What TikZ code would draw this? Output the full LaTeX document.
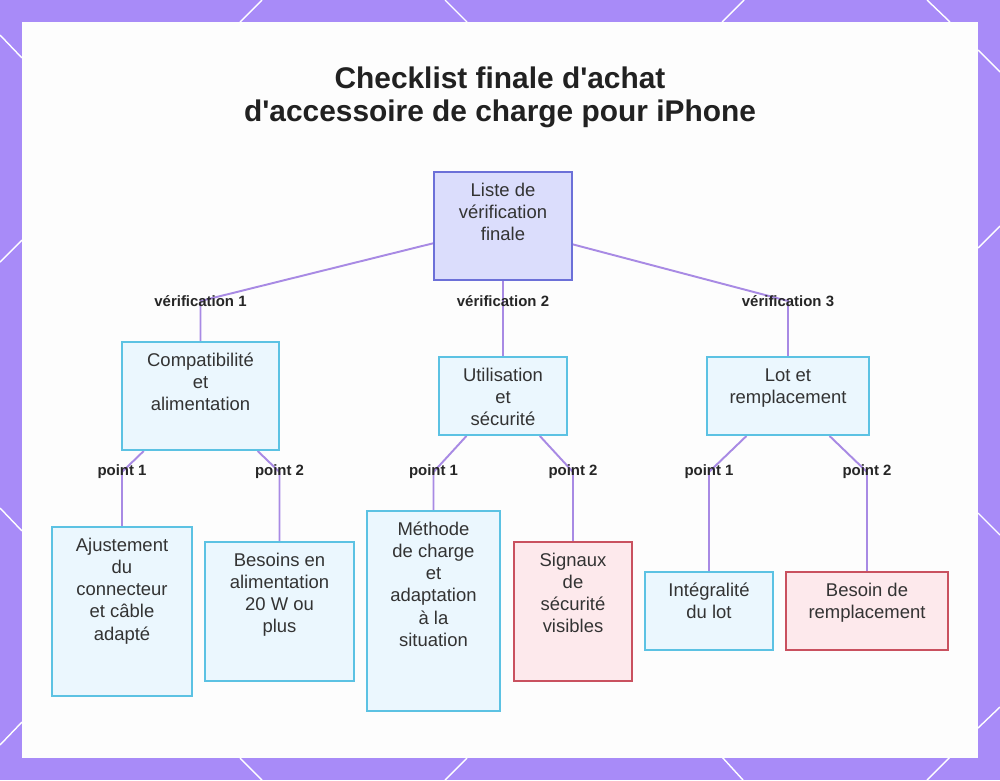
\documentclass[tikz,border=0pt]{standalone}
\usepackage{fontspec}
\setmainfont{Liberation Sans}
\usepackage{tikz}
\usetikzlibrary{positioning, backgrounds}

\definecolor{frame}{RGB}{168,139,248}
\definecolor{panel}{RGB}{253,253,253}
\definecolor{linkc}{RGB}{168,138,228}
\definecolor{textc}{RGB}{51,51,51}
\definecolor{rootfill}{RGB}{219,221,252}
\definecolor{rootdraw}{RGB}{108,112,216}
\definecolor{infofill}{RGB}{235,247,254}
\definecolor{infodraw}{RGB}{92,194,227}
\definecolor{alertfill}{RGB}{253,233,236}
\definecolor{alertdraw}{RGB}{201,81,95}

\pgfdeclarelayer{back}
\pgfsetlayers{back,background,main}

\newlength\pxu
\setlength\pxu{0.2mm}
\newcommand{\boxfont}{\fontsize{10.5}{12.6}\selectfont}
\newcommand{\tagfont}{\fontsize{8.5}{10}\selectfont\bfseries}
\newcommand{\titlefont}{\fontsize{17}{18.7}\selectfont\bfseries}
\newcommand{\boxtxt}[3]{\parbox[c][#2\pxu][t]{#1\pxu}{\centering\vspace*{9\pxu}\strut#3\par}}

\begin{document}
\begin{tikzpicture}[x=0.2mm, y=-0.2mm,
  link/.style={draw=linkc, line width=1.1pt},
  tag/.style={font=\tagfont, text=black!85, inner sep=1pt},
  box/.style={draw, line width=1.1pt, inner sep=0pt, font=\boxfont, text=textc},
  rootbox/.style={box, draw=rootdraw, fill=rootfill},
  infobox/.style={box, draw=infodraw, fill=infofill},
  alertbox/.style={box, draw=alertdraw, fill=alertfill},
  title/.style={font=\titlefont, text=black!87, align=center}]

  \useasboundingbox (0,0) rectangle (1000,780);

  % Frame and panel
  \begin{pgfonlayer}{back}
    \fill[frame] (0,0) rectangle (1000,780);
    \foreach \xa/\ya/\xb/\yb in {240/22/262/0, 445/0/467/22, 722/22/744/0, 927/0/950/22,
        0/35/22/58, 0/262/22/240, 0/508/22/531, 0/745/22/722,
        978/50/1000/72, 978/248/1000/226, 978/513/1000/535, 978/728/1000/707,
        240/758/262/780, 445/780/467/758, 722/757/743/780, 927/780/950/757}
      \draw[white, line width=0.8pt] (\xa,\ya) -- (\xb,\yb);
    \fill[panel] (22,22) rectangle (978,758);
  \end{pgfonlayer}

  % Title
  \node[title] (ttl) at (500,97) {Checklist finale d\textquotesingle achat\\d\textquotesingle accessoire de charge pour iPhone};

  % Root
  \node[rootbox] (root) at (503,226) {\boxtxt{138}{108}{Liste de\\vérification\\finale}};

  % Level 1
  \node[infobox] (c1) at (200.5,396) {\boxtxt{157}{108}{Compatibilité\\et\\alimentation}};
  \node[infobox] (c2) at (503,396) {\boxtxt{128}{78}{Utilisation\\et\\sécurité}};
  \node[infobox] (c3) at (788,396) {\boxtxt{162}{78}{Lot et\\remplacement}};

  \node[tag] (v1) at (200.5,301) {vérification 1};
  \node[tag] (v2) at (503,301) {vérification 2};
  \node[tag] (v3) at (788,301) {vérification 3};

  % Level 2
  \node[infobox] (d1) at (122,611.5) {\boxtxt{140}{169}{Ajustement\\du\\connecteur\\et câble\\adapté}};
  \node[infobox] (d2) at (279.5,611.5) {\boxtxt{149}{139}{Besoins en\\alimentation\\20 W ou\\plus}};
  \node[infobox] (d3) at (433.5,611) {\boxtxt{133}{200}{Méthode\\de charge\\et\\adaptation\\à la\\situation}};
  \node[alertbox] (d4) at (573,611.5) {\boxtxt{118}{139}{Signaux\\de\\sécurité\\visibles}};
  \node[infobox] (d5) at (709,611) {\boxtxt{128}{78}{Intégralité\\du lot}};
  \node[alertbox] (d6) at (867,611) {\boxtxt{162}{78}{Besoin de\\remplacement}};

  \node[tag] (p11) at (122,472) {point 1};
  \node[tag] (p12) at (279.5,472) {point 2};
  \node[tag] (p21) at (433.5,472) {point 1};
  \node[tag] (p22) at (573,472) {point 2};
  \node[tag] (p31) at (709,472) {point 1};
  \node[tag] (p32) at (867,472) {point 2};

  % Connectors
  \begin{pgfonlayer}{background}
    \draw[link] (root) -- (v1.center) -- (c1);
    \draw[link] (root.south) -- (v2.center) -- (c2.north);
    \draw[link] (root) -- (v3.center) -- (c3);
    \draw[link] (c1) -- (p11.center) -- (d1);
    \draw[link] (c1) -- (p12.center) -- (d2);
    \draw[link] (c2) -- (p21.center) -- (d3);
    \draw[link] (c2) -- (p22.center) -- (d4);
    \draw[link] (c3) -- (p31.center) -- (d5);
    \draw[link] (c3) -- (p32.center) -- (d6);
  \end{pgfonlayer}
\end{tikzpicture}
\end{document}
